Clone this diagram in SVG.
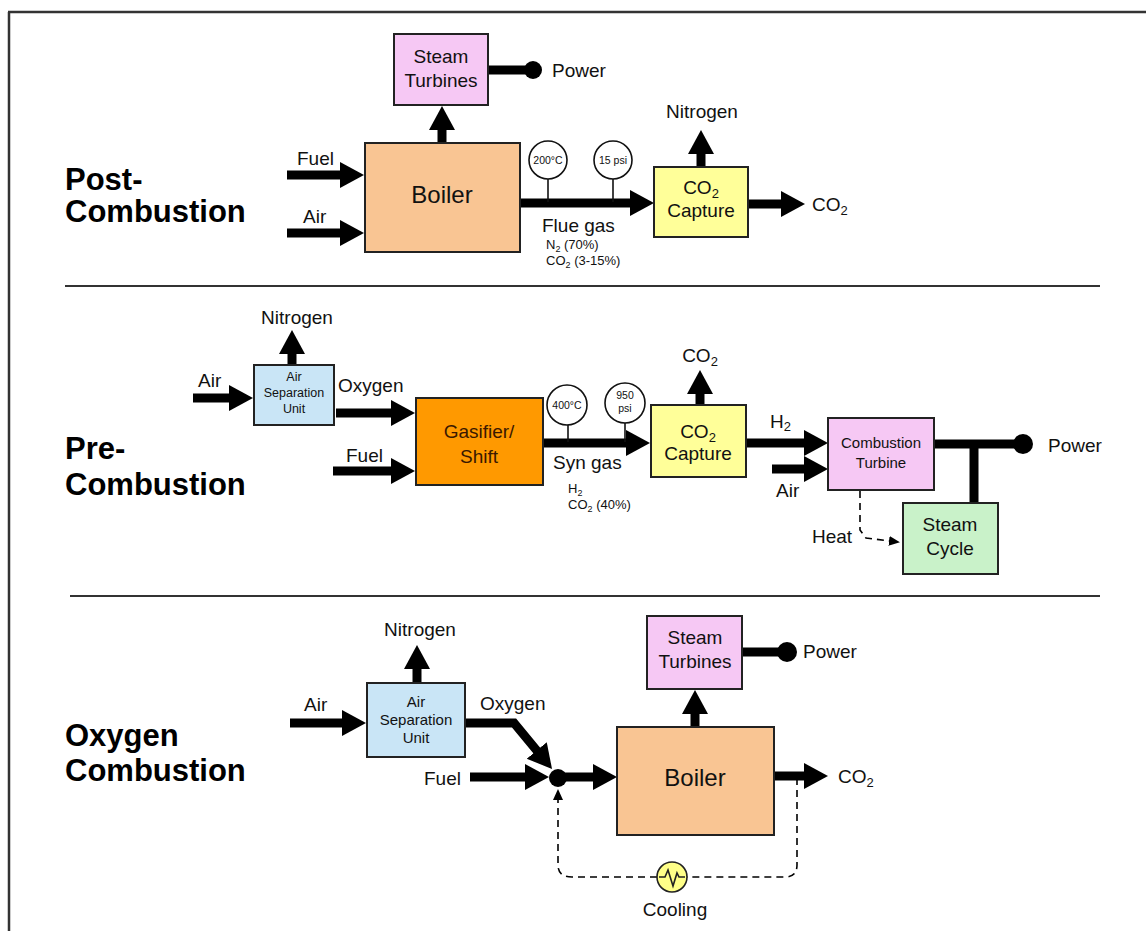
<svg xmlns="http://www.w3.org/2000/svg" width="1146" height="931" viewBox="0 0 1146 931">
<defs>
<marker id="ah" markerUnits="userSpaceOnUse" markerWidth="26" markerHeight="28" viewBox="0 -14 26 28" refX="2" refY="0" orient="auto">
<path d="M0,-13 L24,0 L0,13 z" fill="#000"/>
</marker>
<marker id="sh" markerUnits="userSpaceOnUse" markerWidth="12" markerHeight="12" viewBox="0 -6 12 12" refX="1" refY="0" orient="auto">
<path d="M0,-5 L11,0 L0,5 z" fill="#000"/>
</marker>
<style>
.box{stroke:#222;stroke-width:2}
.flow{stroke:#000;stroke-width:9;fill:none;marker-end:url(#ah)}
.bar{stroke:#000;stroke-width:9;fill:none}
.dash{stroke:#000;stroke-width:1.6;fill:none;stroke-dasharray:7,5}
.t{font-family:"Liberation Sans",Arial,sans-serif;fill:#111}
.c{text-anchor:middle}
.lbl{font-size:19px}
.bt{font-size:19px}
.sm{font-size:12.5px}
.title{font-family:"Liberation Sans",Arial,sans-serif;font-weight:bold;font-size:31px;fill:#000}
.gauge{fill:#fff;stroke:#111;stroke-width:1.6}
.stem{stroke:#111;stroke-width:1.6}
.sep{stroke:#333;stroke-width:2}
</style>
</defs>
<rect width="1146" height="931" fill="#fff"/>
<g id="frame">
<line x1="9" y1="12" x2="9" y2="931" stroke="#333" stroke-width="2.5"/>
<line x1="8" y1="12" x2="1146" y2="12" stroke="#333" stroke-width="2.5"/>
<line class="sep" x1="65" y1="286" x2="1100" y2="286"/>
<line class="sep" x1="70" y1="596" x2="1100" y2="596"/>
</g>
<g id="titles">
<text class="title" x="65" y="190">Post-</text>
<text class="title" x="65" y="222">Combustion</text>
<text class="title" x="65" y="459">Pre-</text>
<text class="title" x="65" y="495">Combustion</text>
<text class="title" x="65" y="746">Oxygen</text>
<text class="title" x="65" y="781">Combustion</text>
</g>
<g id="connectors">
<line class="flow" x1="287" y1="175" x2="342" y2="175"/>
<line class="flow" x1="287" y1="233" x2="342" y2="233"/>
<line class="flow" x1="442" y1="143" x2="442" y2="128"/>
<line class="flow" x1="520" y1="203" x2="632" y2="203"/>
<line class="flow" x1="701" y1="167" x2="701" y2="152"/>
<line class="flow" x1="748" y1="204" x2="783" y2="204"/>
<line class="bar" x1="488" y1="70" x2="528" y2="70"/>
<circle cx="533" cy="70" r="9" fill="#000"/>
<line class="flow" x1="193" y1="398" x2="231" y2="398"/>
<line class="flow" x1="292" y1="365" x2="292" y2="352"/>
<line class="flow" x1="336" y1="413" x2="393" y2="413"/>
<line class="flow" x1="333" y1="471" x2="393" y2="471"/>
<line class="flow" x1="543" y1="443" x2="628" y2="443"/>
<line class="flow" x1="700" y1="405" x2="700" y2="392"/>
<line class="flow" x1="746" y1="443" x2="806" y2="443"/>
<line class="flow" x1="772" y1="469" x2="806" y2="469"/>
<line class="bar" x1="934" y1="444" x2="1018" y2="444" stroke-width="10"/>
<circle cx="1023" cy="444" r="10" fill="#000"/>
<line class="bar" x1="974" y1="444" x2="974" y2="503" stroke-width="8"/>
<path class="dash" d="M860,491 L860,530 L866,538 L890,541" marker-end="url(#sh)"/>
<line class="flow" x1="290" y1="723" x2="344" y2="723"/>
<line class="flow" x1="417" y1="683" x2="417" y2="667"/>
<path class="flow" d="M465,723 L514,723 L538,752"/>
<line class="flow" x1="470" y1="777" x2="527" y2="777"/>
<circle cx="558" cy="778" r="9" fill="#000"/>
<line class="flow" x1="560" y1="777" x2="595" y2="777"/>
<line class="flow" x1="695" y1="727" x2="695" y2="712"/>
<line class="bar" x1="742" y1="652" x2="782" y2="652"/>
<circle cx="787" cy="652" r="10" fill="#000"/>
<line class="flow" x1="774" y1="776" x2="806" y2="776"/>
<path class="dash" d="M797,778 L797,865 Q797,877 785,877 L687,877"/>
<path class="dash" d="M657,877 L572,877 Q558,877 558,865 L558,799" marker-end="url(#sh)"/>
</g>
<g id="gauges-post">
<line class="stem" x1="548" y1="179" x2="548" y2="202"/>
<circle class="gauge" cx="548" cy="160" r="19"/>
<text class="t c" x="548" y="164" font-size="10.5">200°C</text>
<line class="stem" x1="613" y1="179" x2="613" y2="202"/>
<circle class="gauge" cx="613" cy="160" r="19"/>
<text class="t c" x="613" y="164" font-size="10.5">15 psi</text>
</g>
<g id="gauges-pre">
<line class="stem" x1="568" y1="425" x2="568" y2="442"/>
<circle class="gauge" cx="567" cy="405" r="20"/>
<text class="t c" x="567" y="409" font-size="10.5">400°C</text>
<line class="stem" x1="625" y1="423" x2="625" y2="442"/>
<circle class="gauge" cx="625" cy="403" r="20"/>
<text class="t c" x="625" y="399" font-size="10.5">950</text>
<text class="t c" x="625" y="412" font-size="10.5">psi</text>
</g>
<g id="labels">
<text class="t lbl" x="297" y="165">Fuel</text>
<text class="t lbl" x="303" y="223">Air</text>
<text class="t lbl" x="552" y="77">Power</text>
<text class="t bt" x="542" y="232">Flue gas</text>
<text class="t" x="546" y="249" font-size="13">N<tspan font-size="9" dy="3">2</tspan><tspan dy="-3"> (70%)</tspan></text>
<text class="t" x="546" y="265" font-size="13">CO<tspan font-size="9" dy="3">2</tspan><tspan dy="-3"> (3-15%)</tspan></text>
<text class="t lbl c" x="702" y="118">Nitrogen</text>
<text class="t lbl" x="812" y="211">CO<tspan font-size="13" dy="4">2</tspan></text>
<text class="t lbl" x="198" y="387">Air</text>
<text class="t lbl c" x="297" y="324">Nitrogen</text>
<text class="t lbl" x="338" y="392">Oxygen</text>
<text class="t lbl" x="346" y="462">Fuel</text>
<text class="t bt" x="553" y="469">Syn gas</text>
<text class="t" x="568" y="493" font-size="13">H<tspan font-size="9" dy="3">2</tspan></text>
<text class="t" x="568" y="509" font-size="13">CO<tspan font-size="9" dy="3">2</tspan><tspan dy="-3"> (40%)</tspan></text>
<text class="t lbl c" x="700" y="362">CO<tspan font-size="13" dy="4">2</tspan></text>
<text class="t lbl" x="770" y="428">H<tspan font-size="13" dy="3">2</tspan></text>
<text class="t lbl" x="776" y="497">Air</text>
<text class="t lbl" x="1048" y="452">Power</text>
<text class="t lbl" x="812" y="543">Heat</text>
<text class="t lbl" x="304" y="711">Air</text>
<text class="t lbl c" x="420" y="636">Nitrogen</text>
<text class="t lbl" x="480" y="710">Oxygen</text>
<text class="t lbl" x="424" y="785">Fuel</text>
<text class="t lbl" x="803" y="658">Power</text>
<text class="t lbl" x="838" y="783">CO<tspan font-size="13" dy="4">2</tspan></text>
<text class="t lbl c" x="675" y="916">Cooling</text>
</g>
<g id="post-steam-turbines">
<rect class="box" x="394" y="34" width="94" height="71" fill="#F6C8F4"/>
<text class="t bt c" x="441" y="63">Steam</text>
<text class="t bt c" x="441" y="87">Turbines</text>
</g>
<g id="post-boiler">
<rect class="box" x="365" y="143" width="155" height="109" fill="#F9C593"/>
<text class="t c" x="442" y="203" font-size="24">Boiler</text>
</g>
<g id="post-co2-capture">
<rect class="box" x="654" y="167" width="94" height="70" fill="#FFFF99"/>
<text class="t bt c" x="701" y="194">CO<tspan font-size="13" dy="4">2</tspan></text>
<text class="t bt c" x="701" y="217">Capture</text>
</g>
<g id="pre-asu">
<rect class="box" x="254" y="365" width="80" height="60" fill="#C9E5F6"/>
<text class="t sm c" x="294" y="381">Air</text>
<text class="t sm c" x="294" y="397">Separation</text>
<text class="t sm c" x="294" y="413">Unit</text>
</g>
<g id="pre-gasifier">
<rect class="box" x="416" y="398" width="127" height="87" fill="#FF9900"/>
<text class="t bt c" x="479" y="438" style="fill:#3a1800">Gasifier/</text>
<text class="t bt c" x="479" y="463" style="fill:#3a1800">Shift</text>
</g>
<g id="pre-co2-capture">
<rect class="box" x="651" y="405" width="95" height="72" fill="#FFFF99"/>
<text class="t bt c" x="698" y="438">CO<tspan font-size="13" dy="4">2</tspan></text>
<text class="t bt c" x="698" y="460">Capture</text>
</g>
<g id="pre-combustion-turbine">
<rect class="box" x="828" y="418" width="106" height="72" fill="#F6C8F4"/>
<text class="t c" x="881" y="448" font-size="15">Combustion</text>
<text class="t c" x="881" y="468" font-size="15">Turbine</text>
</g>
<g id="pre-steam-cycle">
<rect class="box" x="903" y="503" width="95" height="71" fill="#C9F2C9"/>
<text class="t lbl c" x="950" y="531">Steam</text>
<text class="t lbl c" x="950" y="555">Cycle</text>
</g>
<g id="oxy-asu">
<rect class="box" x="367" y="683" width="98" height="74" fill="#C9E5F6"/>
<text class="t c" x="416" y="707" font-size="15">Air</text>
<text class="t c" x="416" y="725" font-size="15">Separation</text>
<text class="t c" x="416" y="743" font-size="15">Unit</text>
</g>
<g id="oxy-steam-turbines">
<rect class="box" x="647" y="616" width="95" height="73" fill="#F6C8F4"/>
<text class="t bt c" x="695" y="644">Steam</text>
<text class="t bt c" x="695" y="668">Turbines</text>
</g>
<g id="oxy-boiler">
<rect class="box" x="617" y="727" width="157" height="108" fill="#F9C593"/>
<text class="t c" x="695" y="786" font-size="24">Boiler</text>
</g>
<g id="oxy-cooling">
<circle cx="672" cy="877" r="15" fill="#FFFF88" stroke="#222" stroke-width="1.6"/>
<path d="M659,877 L665,877 L668,870 L673,886 L677,873 L679,877 L685,877" fill="none" stroke="#222" stroke-width="1.6"/>
</g>
</svg>
